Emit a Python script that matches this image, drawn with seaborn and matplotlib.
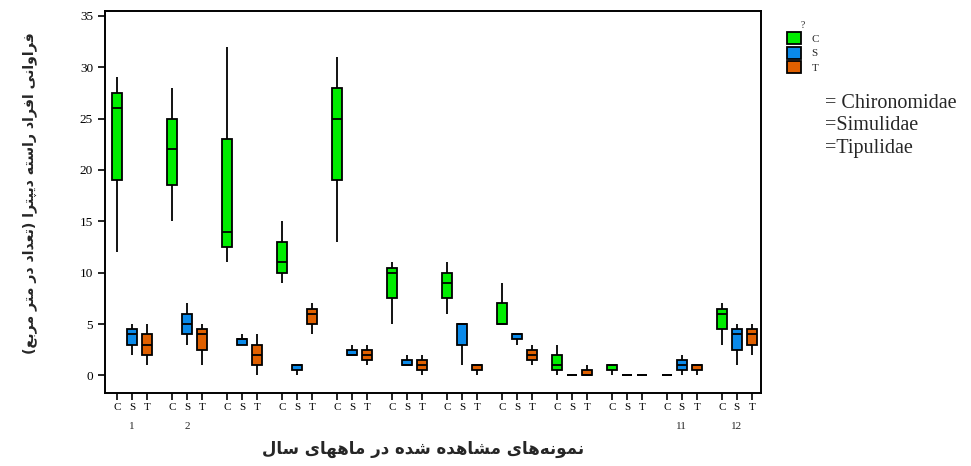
import numpy as np
import pandas as pd
import matplotlib
matplotlib.use("Agg")
import matplotlib.pyplot as plt
import seaborn as sns

# ---- data (five-number summary per month) ----
taxa = ["C", "S", "T"]
taxa_names = ["= Chironomidae", "=Simulidae", "=Tipulidae"]
month_labels = ["1", "2", "", "", "", "", "", "", "", "", "11", "12"]

# (min, q1, median, q3, max)
chiro = [(12, 19, 26, 27.5, 29), (15, 18.5, 22, 25, 28), (11, 12.5, 14, 23, 32),
         (9, 10, 11, 13, 15), (13, 19, 25, 28, 31), (5, 7.5, 10, 10.5, 11),
         (6, 7.5, 9, 10, 11), (5, 5, 5, 7, 9), (0, 0.5, 1, 2, 3),
         (0, 0.5, 1, 1, 1), (0, 0, 0, 0, 0), (3, 4.5, 6, 6.5, 7)]
simul = [(2, 3, 4, 4.5, 5), (3, 4, 5, 6, 7), (3, 3, 3.5, 3.5, 4),
         (0, 0.5, 1, 1, 1), (2, 2, 2, 2.5, 3), (1, 1, 1, 1.5, 2),
         (1, 3, 5, 5, 5), (3, 3.5, 4, 4, 4), (0, 0, 0, 0, 0),
         (0, 0, 0, 0, 0), (0, 0.5, 1, 1.5, 2), (1, 2.5, 4, 4.5, 5)]
tipul = [(1, 2, 3, 4, 5), (1, 2.5, 4, 4.5, 5), (0, 1, 2, 3, 4),
         (4, 5, 6, 6.5, 7), (1, 1.5, 2, 2.5, 3), (0, 0.5, 1, 1.5, 2),
         (0, 0.5, 1, 1, 1), (1, 1.5, 2, 2.5, 3), (0, 0, 0, 0.5, 1),
         (0, 0, 0, 0, 0), (0, 0.5, 1, 1, 1), (2, 3, 4, 4.5, 5)]

colors = ["#00ee00", "#0a8aea", "#e06000"]

ylabel_fa = "فراوانی افراد راسته دیپترا (تعداد در متر مربع)"
xlabel_fa = "نمونه‌های مشاهده شده در ماههای سال"


# ---- minimal Persian shaping (matplotlib has no bidi / joining) ----
FORMS = {
    # isolated, final, initial, medial (None = does not join forward)
    "ا": ("\uFE8D", "\uFE8E", None, None),
    "د": ("\uFEA9", "\uFEAA", None, None),
    "ر": ("\uFEAD", "\uFEAE", None, None),
    "و": ("\uFEED", "\uFEEE", None, None),
    "ب": ("\uFE8F", "\uFE90", "\uFE91", "\uFE92"),
    "پ": ("\uFB56", "\uFB57", "\uFB58", "\uFB59"),
    "ت": ("\uFE95", "\uFE96", "\uFE97", "\uFE98"),
    "ج": ("\uFE9D", "\uFE9E", "\uFE9F", "\uFEA0"),
    "س": ("\uFEB1", "\uFEB2", "\uFEB3", "\uFEB4"),
    "ش": ("\uFEB5", "\uFEB6", "\uFEB7", "\uFEB8"),
    "ع": ("\uFEC9", "\uFECA", "\uFECB", "\uFECC"),
    "ف": ("\uFED1", "\uFED2", "\uFED3", "\uFED4"),
    "ل": ("\uFEDD", "\uFEDE", "\uFEDF", "\uFEE0"),
    "م": ("\uFEE1", "\uFEE2", "\uFEE3", "\uFEE4"),
    "ن": ("\uFEE5", "\uFEE6", "\uFEE7", "\uFEE8"),
    "ه": ("\uFEE9", "\uFEEA", "\uFEEB", "\uFEEC"),
    "ی": ("\uFBFC", "\uFBFD", "\uFBFE", "\uFBFF"),
}


def shape_fa(text):
    chars = list(text)
    out = []
    i = 0
    while i < len(chars):
        c = chars[i]
        if c not in FORMS:
            if c != "\u200c":
                out.append(c)
            i += 1
            continue
        prev = chars[i - 1] if i > 0 else None
        prev_joins = prev in FORMS and FORMS[prev][2] is not None
        if c == "ل" and i + 1 < len(chars) and chars[i + 1] == "ا":
            out.append("\uFEFC" if prev_joins else "\uFEFB")
            i += 2
            continue
        nxt = chars[i + 1] if i + 1 < len(chars) else None
        next_joins = FORMS[c][2] is not None and nxt in FORMS
        iso, fin, ini, med = FORMS[c]
        if prev_joins and next_joins:
            out.append(med)
        elif prev_joins:
            out.append(fin)
        elif next_joins:
            out.append(ini)
        else:
            out.append(iso)
        i += 1
    visual = "".join(out)[::-1]
    return visual.translate(str.maketrans("()", ")("))


# ---- long form table: one row per summary value ----
group_step = 11 / 3
rows = []
positions, tick_labels = [], []
for g in range(len(month_labels)):
    for k, (name, stats) in enumerate(zip(taxa, [chiro, simul, tipul])):
        pos = g * group_step + k
        positions.append(pos)
        tick_labels.append(name)
        for v in stats[g]:
            rows.append({"pos": pos, "taxon": name, "value": v})
df = pd.DataFrame(rows)

sns.set_style("ticks")
plt.rcParams["font.family"] = ["Liberation Serif", "DejaVu Sans"]

fig, ax = plt.subplots(figsize=(9.71, 4.66), dpi=100)
fig.subplots_adjust(left=0.108, right=0.784, bottom=0.157, top=0.977)

sns.boxplot(data=df, x="pos", y="value", hue="taxon", hue_order=taxa,
            palette=colors, native_scale=True, dodge=False, width=0.63,
            whis=(0, 100), linecolor="black", linewidth=1.3, fliersize=0,
            capprops={"linewidth": 0}, saturation=1, ax=ax)

ax.set_xlim(-0.82, positions[-1] + 0.63)
ax.set_ylim(-1.7, 35.5)
ax.set_yticks(range(0, 36, 5))
ax.set_xticks(positions, labels=tick_labels)
ax.set_xlabel("")
ax.set_ylabel("")
ax.tick_params(axis="both", direction="out", length=5, width=1.2, colors="black")
ax.tick_params(axis="x", labelsize=8, pad=2)
ax.tick_params(axis="y", labelsize=9.5)
for sp in ax.spines.values():
    sp.set_visible(True)
    sp.set_linewidth(1.4)
    sp.set_color("black")

# month numbers under the tick group
for g, lab in enumerate(month_labels):
    if lab:
        ax.text(g * group_step + 1, -0.087, lab, transform=ax.get_xaxis_transform(),
                ha="center", va="center", fontsize=8)

sns.move_legend(ax, "upper left", bbox_to_anchor=(787 / 971, 1 - 21 / 466),
                bbox_transform=fig.transFigure, title="?", frameon=False,
                prop={"size": 8}, title_fontsize=7, handlelength=1.3,
                handleheight=1.3, labelspacing=0.2, handletextpad=0.9,
                borderpad=0, borderaxespad=0)

for j, name in enumerate(taxa_names):
    fig.text(825 / 971, 1 - (103 + 22.5 * j) / 466, name, fontsize=14.5,
             ha="left", va="center")

fig.text(30 / 971, 1 - 193 / 466, shape_fa(ylabel_fa), rotation=90, ha="center",
         va="center", fontsize=10.2, fontweight="bold", family=["DejaVu Sans"])
fig.text(423 / 971, 1 - 449 / 466, shape_fa(xlabel_fa), ha="center", va="center",
         fontsize=12, fontweight="bold", family=["DejaVu Sans"])

fig.savefig("out.png", dpi=100)
